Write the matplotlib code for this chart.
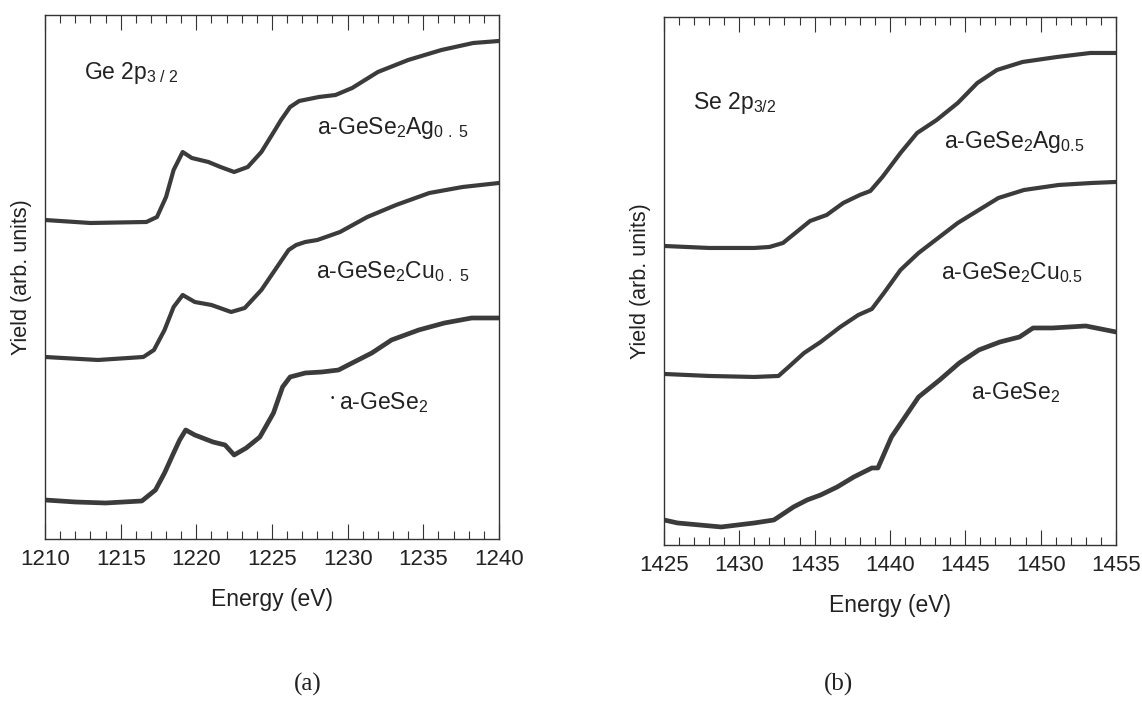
import numpy as np
import matplotlib
matplotlib.use("Agg")
import matplotlib.pyplot as plt
from matplotlib.ticker import MultipleLocator

plt.rcParams['font.family'] = ['Liberation Sans', 'DejaVu Sans']
plt.rcParams['mathtext.fontset'] = 'custom'
plt.rcParams['mathtext.rm'] = 'Liberation Sans'
plt.rcParams['mathtext.it'] = 'Liberation Sans:italic'
plt.rcParams['mathtext.bf'] = 'Liberation Sans:bold'

line_color = "#3b3b3b"

# ---- panel (a): Ge 2p3/2 edge ----
ge_ag_E = [1210.0, 1213.0, 1216.7, 1217.4, 1218.0, 1218.5, 1219.1, 1219.7, 1220.8, 1221.6,
           1222.5, 1223.4, 1224.3, 1225.2, 1225.6, 1226.2, 1226.8, 1228.1, 1229.2, 1230.3,
           1232.0, 1234.0, 1236.2, 1238.3, 1240.0]
ge_ag_Y = [319, 316, 317, 322, 342, 369, 387, 381, 377, 372,
           367, 372, 387, 409, 419, 432, 438, 442, 444, 451,
           467, 479, 489, 496, 498]

ge_cu_E = [1210.0, 1213.5, 1216.5, 1217.2, 1217.9, 1218.5, 1219.1, 1219.9, 1221.0, 1222.3,
           1223.2, 1224.3, 1225.2, 1226.1, 1226.6, 1227.2, 1228.0, 1229.5, 1231.3, 1233.2,
           1235.4, 1237.6, 1240.0]
ge_cu_Y = [182, 179, 182, 189, 209, 232, 244, 237, 234, 227,
           231, 249, 269, 289, 294, 297, 299, 307, 322, 334,
           346, 352, 356]

ge_0_E = [1210.0, 1212.0, 1214.0, 1216.4, 1217.3, 1217.9, 1218.5, 1218.9, 1219.3, 1219.9,
          1221.1, 1221.9, 1222.5, 1223.3, 1224.2, 1225.1, 1225.7, 1226.2, 1227.2, 1228.3,
          1229.4, 1230.3, 1231.6, 1232.9, 1234.7, 1236.4, 1238.2, 1240.0]
ge_0_Y = [39, 37, 36, 38, 49, 66, 86, 99, 109, 104,
          97, 94, 84, 91, 102, 126, 152, 162, 166, 167,
          169, 176, 186, 199, 209, 216, 221, 221]

# ---- panel (b): Se 2p3/2 edge ----
se_ag_E = [1425.0, 1428.0, 1431.0, 1432.0, 1432.9, 1433.8, 1434.7, 1435.8, 1436.9, 1438.0,
           1438.7, 1439.5, 1440.7, 1441.8, 1443.1, 1444.5, 1445.8, 1447.1, 1448.8, 1451.1,
           1453.3, 1455.0]
se_ag_Y = [299, 297, 297, 298, 302, 313, 324, 330, 342, 350,
           354, 368, 392, 412, 425, 442, 462, 475, 483, 488,
           492, 492]

se_cu_E = [1425.0, 1428.0, 1431.0, 1432.6, 1433.2, 1434.3, 1435.4, 1436.7, 1437.9, 1438.8,
           1439.6, 1440.7, 1441.9, 1443.2, 1444.5, 1445.9, 1447.2, 1448.9, 1451.2, 1453.4,
           1455.0]
se_cu_Y = [171, 169, 168, 169, 177, 192, 203, 218, 230, 236,
           252, 275, 292, 307, 322, 335, 347, 355, 360, 362,
           363]

se_0_E = [1425.0, 1425.9, 1428.8, 1431.0, 1432.3, 1433.0, 1433.6, 1434.5, 1435.4, 1436.5,
          1437.6, 1438.8, 1439.2, 1440.1, 1441.0, 1441.9, 1443.3, 1444.6, 1445.9, 1447.3,
          1448.6, 1449.5, 1450.8, 1453.0, 1455.0]
se_0_Y = [25, 22, 18, 22, 25, 32, 38, 45, 50, 58,
          68, 77, 77, 108, 128, 148, 165, 182, 195, 203,
          208, 217, 217, 219, 213]

fig = plt.figure(figsize=(11.42, 7.04), dpi=100)
ax_a = fig.add_axes([0.0394, 0.2344, 0.3975, 0.7443])
ax_b = fig.add_axes([0.5814, 0.2259, 0.3958, 0.7500])

tc = "#222222"
for ax in [ax_a, ax_b]:
    ax.xaxis.set_major_locator(MultipleLocator(5))
    ax.xaxis.set_minor_locator(MultipleLocator(1))
    ax.tick_params(axis='x', which='both', direction='in', top=True, bottom=True,
                   labelsize=16, pad=7, colors="#333333", labelcolor=tc)
    ax.tick_params(axis='x', which='major', length=11, width=0.8)
    ax.tick_params(axis='x', which='minor', length=5.5, width=0.8)
    ax.set_yticks([])
    for sp in ax.spines.values():
        sp.set_linewidth(1.0)
        sp.set_color("#333333")
    ax.set_xlabel("Energy (eV)", fontsize=16.5, labelpad=13, color=tc)
    ax.set_ylabel("Yield (arb. units)", fontsize=15.5, labelpad=9, color=tc)

for E, Y, w in [(ge_ag_E, ge_ag_Y, 3.0), (ge_cu_E, ge_cu_Y, 3.0), (ge_0_E, ge_0_Y, 3.4)]:
    ax_a.plot(E, Y, color=line_color, lw=w, solid_capstyle="round", solid_joinstyle="round")
ax_a.set_xlim(1210, 1240)
ax_a.set_ylim(0, 524)

for E, Y, w in [(se_ag_E, se_ag_Y, 3.0), (se_cu_E, se_cu_Y, 3.0), (se_0_E, se_0_Y, 3.4)]:
    ax_b.plot(E, Y, color=line_color, lw=w, solid_capstyle="round", solid_joinstyle="round")
ax_b.set_xlim(1425, 1455)
ax_b.set_ylim(0, 528)

fs = 16.5
ax_a.text(1212.6, 466, r"Ge 2p$_{3\,\,/\,\,2}$", fontsize=fs, va="center", color=tc)
ax_a.text(1228.0, 411, r"a-GeSe$_2$Ag$_{0\,\,.\,\,5}$", fontsize=fs, va="center", color=tc)
ax_a.text(1227.9, 267, r"a-GeSe$_2$Cu$_{0\,\,.\,\,5}$", fontsize=fs, va="center", color=tc)
ax_a.text(1229.0, 141, "•", fontsize=7, va="center", ha="center", color=tc)
ax_a.text(1229.4, 136, r"a-GeSe$_2$", fontsize=fs, va="center", color=tc)

ax_b.text(1426.9, 442, r"Se 2p$_{3/2}$", fontsize=fs, va="center", color=tc)
ax_b.text(1443.6, 403, r"a-GeSe$_2$Ag$_{0.5}$", fontsize=fs, va="center", color=tc)
ax_b.text(1443.4, 272, r"a-GeSe$_2$Cu$_{0.5}$", fontsize=fs, va="center", color=tc)
ax_b.text(1445.4, 152, r"a-GeSe$_2$", fontsize=fs, va="center", color=tc)

fig.text(308 / 1142, 1 - 684 / 704, "(a)", fontsize=18, family="Liberation Serif",
         ha="center", va="center", color=tc)
fig.text(838 / 1142, 1 - 684 / 704, "(b)", fontsize=18, family="Liberation Serif",
         ha="center", va="center", color=tc)

fig.savefig("out.png", dpi=100)
